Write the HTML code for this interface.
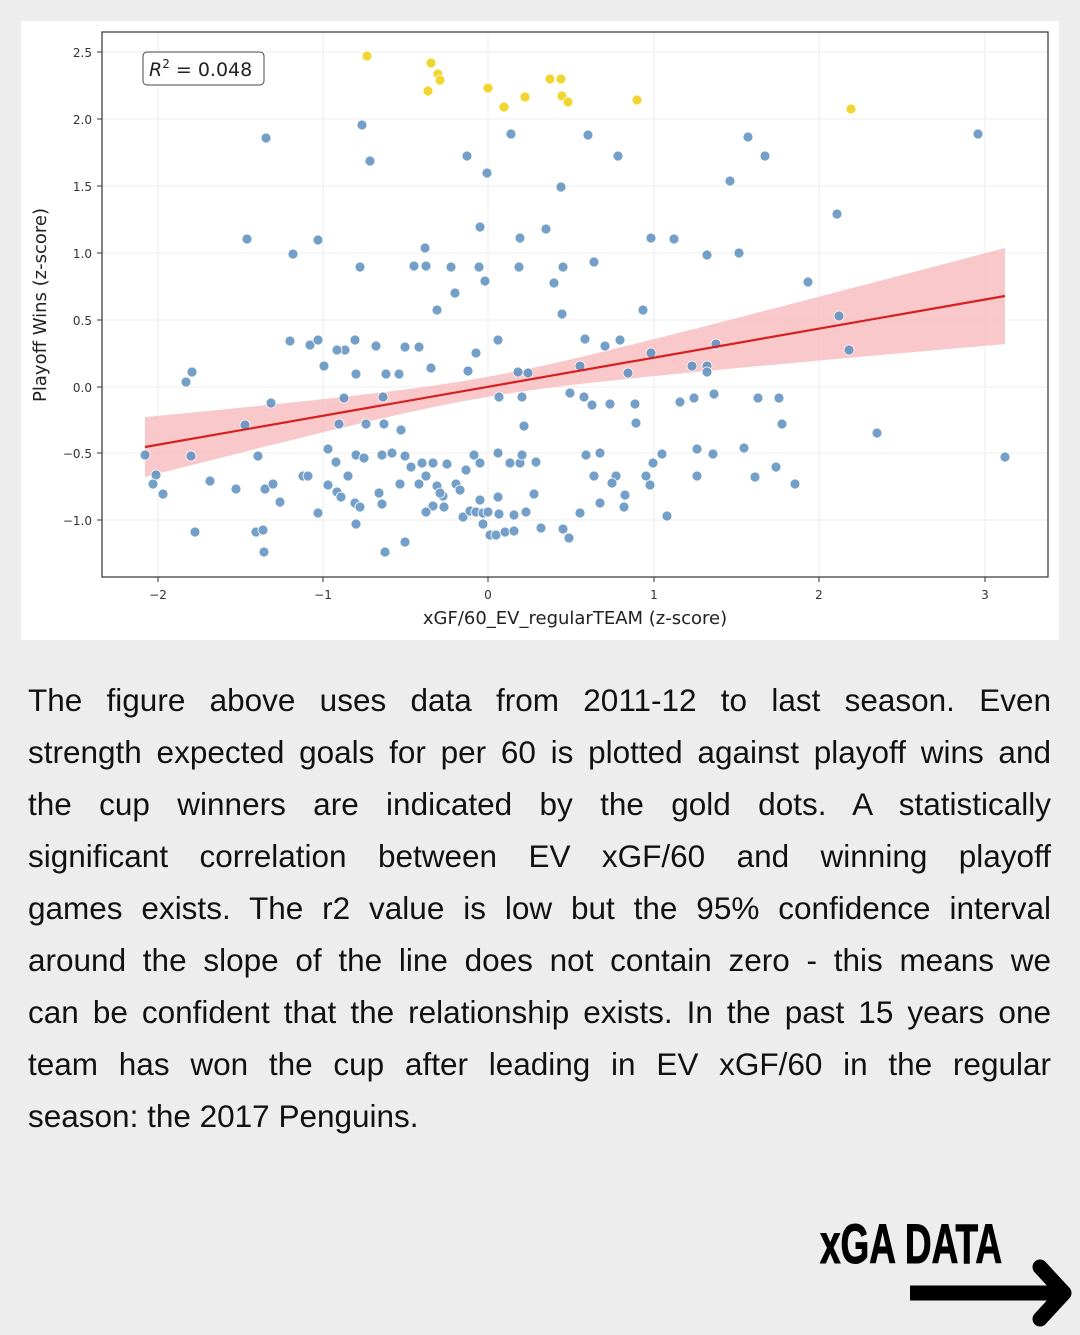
<!DOCTYPE html><html><head><style>
body{margin:0;width:1080px;height:1335px;background:#ededed;position:relative;font-family:"Liberation Sans",sans-serif;overflow:hidden}
#chart{position:absolute;left:21px;top:21px;width:1038px;height:619px;background:#fff}
#txt{position:absolute;left:28px;top:674px;width:1023px;font-size:31.5px;line-height:52px;color:#111}
#txt div{text-align:justify;text-align-last:justify;white-space:nowrap;height:52px}
#txt div.l{text-align-last:left}
#logo{position:absolute;left:820px;top:1214px;font-size:56px;font-weight:bold;color:#000;transform:scaleX(0.66);transform-origin:left top;line-height:60px;white-space:nowrap;font-family:"Liberation Sans Narrow","Liberation Sans",sans-serif;-webkit-text-stroke:1px #000}
</style></head><body>
<div id="chart"></div>
<svg width="1080" height="660" style="position:absolute;left:0;top:0" font-family="DejaVu Sans, sans-serif">
<g stroke="#eee" stroke-width="1">
<line x1="158" y1="32" x2="158" y2="577"/><line x1="323" y1="32" x2="323" y2="577"/><line x1="488" y1="32" x2="488" y2="577"/><line x1="654" y1="32" x2="654" y2="577"/><line x1="819" y1="32" x2="819" y2="577"/><line x1="985" y1="32" x2="985" y2="577"/>
<line x1="102" y1="52" x2="1048" y2="52"/><line x1="102" y1="119" x2="1048" y2="119"/><line x1="102" y1="186" x2="1048" y2="186"/><line x1="102" y1="253" x2="1048" y2="253"/><line x1="102" y1="320" x2="1048" y2="320"/><line x1="102" y1="387" x2="1048" y2="387"/><line x1="102" y1="453" x2="1048" y2="453"/><line x1="102" y1="520" x2="1048" y2="520"/>
</g>
<polygon id="band" fill="#f5b5b8" opacity="0.75"/>
<g id="d" fill="#5b8fbf" stroke="#fff" stroke-width="0.8" opacity="0.85"></g>
<g id="g" fill="#f2d630" stroke="#fff" stroke-width="0.8"></g>
<line x1="145" y1="447" x2="1005" y2="296" stroke="#d62020" stroke-width="2.2"/>
<rect x="102" y="32" width="946" height="545" fill="none" stroke="#333" stroke-width="1.2"/>
<rect x="143" y="52" width="121" height="33" rx="4" fill="#fff" stroke="#444"/>
<text x="149" y="76" font-size="19" fill="#222"><tspan font-style="italic">R</tspan><tspan font-size="12" dy="-8">2</tspan><tspan dy="8"> = 0.048</tspan></text>
<g font-size="12" fill="#333" text-anchor="end">
<text x="92" y="57">2.5</text><text x="92" y="124">2.0</text><text x="92" y="191">1.5</text><text x="92" y="258">1.0</text><text x="92" y="325">0.5</text><text x="92" y="392">0.0</text><text x="92" y="458">−0.5</text><text x="92" y="525">−1.0</text></g>
<g stroke="#333"><line x1="97" y1="52" x2="102" y2="52"/><line x1="97" y1="119" x2="102" y2="119"/><line x1="97" y1="186" x2="102" y2="186"/><line x1="97" y1="253" x2="102" y2="253"/><line x1="97" y1="320" x2="102" y2="320"/><line x1="97" y1="387" x2="102" y2="387"/><line x1="97" y1="453" x2="102" y2="453"/><line x1="97" y1="520" x2="102" y2="520"/>
<line x1="158" y1="577" x2="158" y2="582"/><line x1="323" y1="577" x2="323" y2="582"/><line x1="488" y1="577" x2="488" y2="582"/><line x1="654" y1="577" x2="654" y2="582"/><line x1="819" y1="577" x2="819" y2="582"/><line x1="985" y1="577" x2="985" y2="582"/></g>
<g font-size="12" fill="#333" text-anchor="middle"><text x="158" y="599">−2</text><text x="323" y="599">−1</text><text x="488" y="599">0</text><text x="654" y="599">1</text><text x="819" y="599">2</text><text x="985" y="599">3</text></g>
<text x="575" y="624" font-size="18" fill="#222" text-anchor="middle">xGF/60_EV_regularTEAM (z-score)</text>
<text transform="translate(46,305) rotate(-90)" font-size="18" fill="#222" text-anchor="middle">Playoff Wins (z-score)</text>
</svg>
<div id="txt">
<div>The figure above uses data from 2011-12 to last season. Even</div>
<div>strength expected goals for per 60 is plotted against playoff wins and</div>
<div>the cup winners are indicated by the gold dots. A statistically</div>
<div>significant correlation between EV xGF/60 and winning playoff</div>
<div>games exists. The r2 value is low but the 95% confidence interval</div>
<div>around the slope of the line does not contain zero - this means we</div>
<div>can be confident that the relationship exists. In the past 15 years one</div>
<div>team has won the cup after leading in EV xGF/60 in the regular</div>
<div class="l">season: the 2017 Penguins.</div>
</div>
<div id="logo">xGA DATA</div>
<svg width="180" height="80" style="position:absolute;left:900px;top:1255px">
<line x1="10" y1="38" x2="160" y2="38" stroke="#000" stroke-width="15"/>
<polyline points="140,12 164,38 140,64" fill="none" stroke="#000" stroke-width="15" stroke-linecap="round" stroke-linejoin="round"/>
</svg>
<script>
var G=[[367,56],[431,63],[438,74],[440,80],[428,91],[488,88],[504,107],[525,97],[550,79],[561,79],[562,96],[568,102],[637,100],[851,109]];
var B=[[266,138],[362,125],[370,161],[467,156],[487,173],[511,134],[588,135],[618,156],[561,187],[748,137],[765,156],[730,181],[978,134],[837,214],[247,239],[293,254],[318,240],[360,267],[414,266],[426,266],[425,248],[451,267],[480,227],[479,267],[485,281],[520,238],[519,267],[546,229],[563,267],[554,283],[594,262],[651,238],[674,239],[707,255],[739,253],[808,282],[455,293],[437,310],[562,314],[643,310],[839,316],[849,350],[290,341],[310,345],[318,340],[345,350],[355,340],[337,350],[376,346],[405,347],[419,347],[324,366],[356,374],[386,374],[399,374],[431,368],[468,371],[476,353],[498,340],[518,372],[528,373],[585,339],[605,346],[620,340],[580,366],[628,373],[651,353],[692,366],[707,366],[707,372],[716,344],[186,382],[192,372],[271,403],[344,398],[383,397],[499,397],[522,397],[570,393],[584,397],[592,405],[610,404],[635,404],[680,402],[694,398],[714,394],[758,398],[779,398],[245,425],[339,424],[384,424],[366,424],[401,430],[524,426],[636,423],[782,424],[877,433],[1005,457],[145,455],[191,456],[258,456],[303,476],[308,476],[328,449],[336,462],[356,455],[364,458],[382,455],[392,453],[405,456],[411,467],[422,463],[433,463],[447,464],[474,455],[480,463],[498,453],[510,463],[520,463],[522,455],[536,462],[586,455],[600,453],[594,476],[616,476],[612,483],[600,503],[625,495],[624,507],[653,463],[662,454],[646,476],[650,485],[697,449],[713,454],[744,448],[697,476],[755,477],[776,467],[795,484],[156,475],[153,484],[163,494],[210,481],[236,489],[265,489],[273,484],[280,502],[318,513],[328,485],[337,492],[341,497],[348,476],[355,503],[360,507],[379,493],[382,504],[400,484],[419,484],[426,476],[437,486],[443,496],[444,507],[433,506],[440,493],[456,484],[460,490],[426,512],[463,517],[470,511],[476,512],[483,513],[483,524],[490,535],[496,535],[505,532],[514,531],[498,497],[499,514],[514,515],[526,512],[534,494],[541,528],[563,529],[569,538],[580,513],[195,532],[256,532],[263,530],[264,552],[356,524],[385,552],[405,542],[667,516],[466,470],[480,500],[488,512]];
var ns="http://www.w3.org/2000/svg";
function put(a,id){var g=document.getElementById(id);a.forEach(function(p){var c=document.createElementNS(ns,"circle");c.setAttribute("cx",p[0]);c.setAttribute("cy",p[1]);c.setAttribute("r",5);g.appendChild(c);});}
put(B,"d");put(G,"g");
var up=[],lo=[];
for(var x=145;x<=1005;x+=10){var yc=447+(x-145)*(-151/860);var dx=x-480;var b=dx<0?0.0071:0.0080;var w=Math.sqrt(100+b*dx*dx);up.push(x+","+(yc-w).toFixed(1));lo.unshift(x+","+(yc+w).toFixed(1));}
document.getElementById("band").setAttribute("points",up.concat(lo).join(" "));
</script>
</body></html>
